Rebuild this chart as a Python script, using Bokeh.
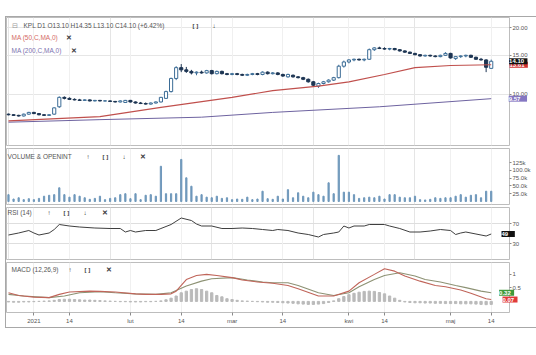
from bokeh.plotting import figure
from bokeh.layouts import column
from bokeh.models import ColumnDataSource, FixedTicker, Label, Range1d, Grid
from bokeh.embed import file_html
from bokeh.resources import INLINE

FONT = "Liberation Sans"

# ---------------- data (trading-day index 0 = 22 Dec 2020 ... 95 = 14 May 2021) ----------------
day = list(range(96))
open_ = [8.15, 8.10, 8.05, 8.00, 8.15, 8.30, 8.20, 8.10, 8.05, 8.15,
         8.80, 9.70, 9.60, 9.50, 9.45, 9.40, 9.45, 9.35, 9.40, 9.35,
         9.35, 9.30, 9.25, 9.20, 9.40, 9.25, 9.15, 9.10, 9.05, 9.15,
         9.25, 9.60, 10.30, 11.80, 13.20, 12.90, 12.70, 12.50, 12.60, 12.50,
         12.80, 12.40, 12.70, 12.40, 12.30, 12.40, 12.30, 12.20, 12.30, 12.40,
         12.30, 12.60, 12.40, 12.50, 12.30, 12.00, 12.20, 12.00, 11.90, 11.70,
         11.40, 10.90, 11.20, 11.40, 11.60, 11.90, 13.40, 14.00, 14.30, 14.40,
         14.30, 14.40, 15.90, 16.20, 16.10, 16.00, 16.10, 15.90, 15.70, 15.50,
         15.30, 15.10, 14.90, 15.00, 14.90, 14.80, 15.00, 15.30, 14.50, 14.80,
         14.90, 15.00, 14.70, 14.40, 14.30, 13.10]
high = [8.20, 8.15, 8.10, 8.20, 8.35, 8.35, 8.25, 8.15, 8.15, 8.75,
        9.80, 9.80, 9.70, 9.60, 9.55, 9.50, 9.50, 9.45, 9.45, 9.40,
        9.40, 9.35, 9.40, 9.45, 9.45, 9.30, 9.25, 9.20, 9.20, 9.30,
        9.75, 10.40, 11.90, 13.40, 13.70, 13.30, 12.90, 12.70, 12.80, 12.90,
        12.90, 12.80, 12.80, 12.50, 12.50, 12.50, 12.40, 12.40, 12.50, 12.50,
        12.70, 12.70, 12.60, 12.60, 12.40, 12.40, 12.30, 12.10, 12.00, 11.80,
        11.50, 11.30, 11.50, 11.70, 12.00, 13.60, 14.20, 14.40, 14.50, 14.50,
        14.50, 16.10, 16.30, 16.40, 16.30, 16.20, 16.20, 16.00, 15.80, 15.60,
        15.40, 15.20, 15.10, 15.10, 15.00, 15.10, 15.50, 15.40, 14.90, 15.00,
        15.10, 15.10, 14.80, 14.60, 14.40, 14.35]
low = [8.05, 8.00, 7.95, 7.95, 8.10, 8.15, 8.05, 8.00, 8.00, 8.10,
       8.70, 9.50, 9.45, 9.40, 9.35, 9.35, 9.30, 9.30, 9.30, 9.30,
       9.25, 9.20, 9.20, 9.15, 9.20, 9.10, 9.05, 9.00, 9.00, 9.10,
       9.20, 9.55, 10.20, 11.60, 12.60, 12.50, 12.30, 12.20, 12.40, 12.40,
       12.30, 12.30, 12.30, 12.20, 12.20, 12.20, 12.10, 12.10, 12.20, 12.20,
       12.20, 12.30, 12.30, 12.20, 12.00, 11.90, 11.90, 11.80, 11.60, 11.30,
       10.80, 10.70, 11.10, 11.30, 11.50, 11.80, 13.20, 13.80, 14.10, 14.20,
       14.10, 14.30, 15.70, 16.00, 15.90, 15.80, 15.80, 15.60, 15.40, 15.20,
       15.00, 14.80, 14.80, 14.80, 14.70, 14.70, 14.90, 14.50, 14.30, 14.60,
       14.70, 14.60, 14.30, 14.20, 12.60, 13.10]
close = [8.10, 8.05, 8.00, 8.15, 8.30, 8.20, 8.10, 8.05, 8.10, 8.70,
         9.70, 9.60, 9.50, 9.45, 9.40, 9.45, 9.35, 9.40, 9.35, 9.35,
         9.30, 9.25, 9.35, 9.40, 9.25, 9.15, 9.10, 9.05, 9.15, 9.25,
         9.70, 10.30, 11.80, 13.20, 12.90, 12.70, 12.50, 12.60, 12.50, 12.80,
         12.40, 12.70, 12.40, 12.30, 12.40, 12.30, 12.20, 12.30, 12.40, 12.30,
         12.60, 12.40, 12.50, 12.30, 12.10, 12.30, 12.00, 11.90, 11.70, 11.40,
         11.00, 11.20, 11.40, 11.60, 11.90, 13.40, 14.00, 14.30, 14.40, 14.30,
         14.40, 15.90, 16.20, 16.10, 16.00, 16.10, 15.90, 15.70, 15.50, 15.30,
         15.10, 14.90, 15.00, 14.90, 14.80, 15.00, 15.30, 14.60, 14.80, 14.90,
         15.00, 14.70, 14.40, 14.30, 13.25, 14.10]
volume_k = [22, 8, 12, 6, 9, 6, 10, 17, 20, 22,
            44, 22, 14, 22, 17, 12, 7, 10, 17, 6,
            10, 12, 22, 25, 9, 25, 6, 20, 22, 17,
            113, 25, 25, 25, 135, 76, 49, 17, 22, 14,
            12, 17, 10, 12, 6, 8, 7, 14, 6, 8,
            33, 9, 7, 17, 8, 38, 12, 28, 17, 12,
            30, 22, 17, 60, 25, 148, 30, 30, 22, 10,
            12, 14, 12, 17, 8, 22, 22, 14, 12, 12,
            17, 6, 5, 7, 12, 10, 12, 12, 17, 22,
            14, 20, 22, 12, 33, 33]
ma50_day = [0, 18, 30, 44, 52, 61, 67, 74, 80, 87, 95]
ma50_val = [7.6, 7.95, 8.75, 9.7, 10.4, 10.9, 11.4, 12.3, 13.2, 13.5, 13.6]
ma200_day = [0, 18, 38, 52, 73, 95]
ma200_val = [7.5, 7.7, 7.9, 8.3, 8.8, 9.57]
rsi_day = [0, 2, 4, 5, 6, 8, 9, 10, 12, 14, 17, 20, 22, 23, 24, 25, 27, 29, 30, 32,
           34, 36, 37, 38, 40, 42, 44, 46, 48, 50, 52, 53, 55, 57, 59, 61, 62, 64, 65, 66,
           67, 68, 70, 71, 74, 75, 77, 79, 81, 83, 85, 87, 88, 89, 90, 92, 93, 94, 95]
rsi_val = [47, 51, 56, 51, 47, 51, 58, 68, 65, 63, 61, 60, 60, 53, 56, 53, 56, 56, 60, 68,
           81, 76, 69, 65, 65, 60, 60, 61, 60, 58, 56, 58, 56, 51, 48, 43, 48, 51, 53, 65,
           61, 65, 65, 68, 68, 65, 60, 53, 53, 55, 58, 56, 48, 51, 53, 49, 47, 45, 49]
macd_day = [0, 2, 5, 8, 10, 12, 16, 18, 21, 25, 27, 30, 32, 33, 35, 37, 39, 41, 44, 46,
            49, 52, 55, 57, 61, 64, 67, 69, 72, 74, 76, 78, 81, 84, 86, 89, 91, 94, 95]
macd_val = [0.32, 0.22, 0.16, 0.14, 0.26, 0.35, 0.38, 0.37, 0.35, 0.28, 0.26, 0.26, 0.28, 0.38,
            0.81, 0.96, 1.00, 0.96, 0.88, 0.79, 0.72, 0.67, 0.59, 0.47, 0.20, 0.20, 0.38, 0.69,
            1.00, 1.21, 1.12, 0.94, 0.75, 0.59, 0.54, 0.42, 0.30, 0.10, 0.07]
signal_day = [0, 3, 8, 11, 14, 18, 21, 25, 29, 32, 35, 38, 40, 44, 47, 50, 52, 55, 57, 61,
              64, 67, 69, 72, 74, 77, 80, 82, 85, 88, 90, 93, 95]
signal_val = [0.26, 0.20, 0.14, 0.20, 0.32, 0.36, 0.32, 0.28, 0.26, 0.32, 0.57, 0.75, 0.84,
              0.88, 0.79, 0.72, 0.69, 0.69, 0.59, 0.32, 0.22, 0.32, 0.54, 0.81, 0.96, 1.06,
              0.94, 0.81, 0.72, 0.59, 0.51, 0.38, 0.32]
hist = [-0.02, -0.03, -0.03, -0.02, -0.02, -0.01, 0.0, 0.01, 0.02, 0.04,
        0.07, 0.08, 0.08, 0.07, 0.06, 0.05, 0.05, 0.04, 0.03, 0.02,
        0.01, 0.0, -0.01, -0.01, -0.02, -0.02, -0.02, -0.01, -0.01, 0.0,
        0.02, 0.06, 0.12, 0.20, 0.32, 0.38, 0.44, 0.47, 0.44, 0.38,
        0.32, 0.22, 0.17, 0.10, 0.07, 0.04, 0.02, 0.01, 0.0, -0.01,
        -0.02, -0.03, -0.03, -0.04, -0.05, -0.06, -0.07, -0.09, -0.10, -0.11,
        -0.11, -0.10, -0.08, -0.04, 0.02, 0.10, 0.18, 0.25, 0.30, 0.34,
        0.37, 0.38, 0.37, 0.33, 0.28, 0.20, 0.12, 0.04, -0.02, -0.04,
        -0.05, -0.05, -0.06, -0.06, -0.07, -0.07, -0.08, -0.08, -0.08, -0.09,
        -0.09, -0.09, -0.10, -0.11, -0.12, -0.11]
tick_days = [5, 12, 24, 34, 44, 54, 67, 74, 87, 95]
tick_labels = ["2021", "14", "lut", "14", "mar", "14", "kwi", "14", "maj", "14"]
price_ticks = [10, 15, 20]
price_tick_labels = ["10.00", "15.00", "20.00"]
vol_ticks = [25, 50, 75, 100, 125]
vol_tick_labels = ["25.0k", "50.0k", "75.0k", "100.0k", "125k"]
rsi_ticks = [30, 70]
macd_ticks = [0.5, 1.0]

# ---------------- helpers ----------------
x_range = Range1d(-0.39, 98.6)
FRAME_W = 503
ICON = "#3c3c3c"
TAG_W = 18.4   # width of one value-tag side panel


def make_fig(fh, yr, ytype="linear", show_x=False, top=1, bottom=2):
    p = figure(frame_width=FRAME_W, frame_height=fh, x_range=x_range, y_range=yr,
               y_axis_type=ytype, y_axis_location="right",
               x_axis_location="below" if show_x else None,
               output_backend="svg", toolbar_location=None,
               min_border_left=0, min_border_right=22, min_border_top=top,
               min_border_bottom=bottom, background_fill_color="white",
               border_fill_color="white", outline_line_color="#bdbdbd",
               outline_line_width=1)
    ax = p.yaxis[0]
    ax.axis_line_color = None
    ax.major_tick_in = 0
    ax.major_tick_out = 2
    ax.major_tick_line_color = "#8a8a8a"
    ax.minor_tick_line_color = None
    ax.major_label_text_font = FONT
    ax.major_label_text_font_size = "6px"
    ax.major_label_text_color = "#555555"
    ax.major_label_standoff = 1
    p.ygrid.grid_line_color = "#e6e6e6"
    if show_x:
        p.xgrid.ticker = FixedTicker(ticks=tick_days)
        p.xgrid.grid_line_color = "#f0f0f0"
    else:
        p.add_layout(Grid(dimension=0, ticker=FixedTicker(ticks=tick_days),
                          grid_line_color="#f0f0f0"))
    return p


def txt(p, x, y, s, color="#555555", size="6.5px", style="normal"):
    p.add_layout(Label(x=x, y=y, x_units="screen", y_units="screen", text=s,
                       text_color=color, text_font=FONT, text_font_size=size,
                       text_font_style=style, text_baseline="middle", level="overlay"))


def box(p, k, y, s, bg, fg="white"):
    # value tag in its own right-hand side panel; k-th tag shifted back over the price column
    p.add_layout(Label(x=-21 - k * TAG_W, y=y, x_units="screen", text=s, text_color=fg,
                       text_font=FONT, text_font_size="6px", text_font_style="bold",
                       text_baseline="middle", background_fill_color=bg,
                       level="overlay"), "right")


# ---------------- main price panel ----------------
p1 = make_fig(128, Range1d(5.89, 22.2), ytype="log", top=0, bottom=2)
p1.yaxis[0].ticker = FixedTicker(ticks=price_ticks)
p1.yaxis[0].major_label_overrides = dict(zip(price_ticks, price_tick_labels))

up = [c >= o for o, c in zip(open_, close)]
src = ColumnDataSource(dict(day=day, o=open_, h=high, l=low, c=close,
                            fill=["white" if u else "#1d3553" for u in up],
                            line=["#3b6c96" if u else "#1d3553" for u in up]))
p1.segment(x0="day", y0="h", x1="day", y1="l", color="line", line_width=1, source=src)
p1.vbar(x="day", top="o", bottom="c", width=0.62, fill_color="fill", line_color="line",
        line_width=1, source=src)
p1.line(ma200_day, ma200_val, color="#6e63a0", line_width=1)
p1.line(ma50_day, ma50_val, color="#c0504d", line_width=1.2)

txt(p1, 5, 120, "\u229f", color="#9a9a9a")
txt(p1, 17, 120, "KPL  D1  O13.10  H14.35  L13.10  C14.10  (+6.42%)", color="#555555")
txt(p1, 186, 120, "[ ]", color=ICON, size="6px", style="bold")
txt(p1, 206, 120, "\u2193", color=ICON, style="bold")
txt(p1, 5, 108, "MA (50,C,MA,0)", color="#d46a64")
txt(p1, 59, 108, "\u2715", color=ICON, style="bold")
txt(p1, 5, 95, "MA (200,C,MA,0)", color="#7d73b0")
txt(p1, 64, 95, "\u2715", color=ICON, style="bold")

box(p1, 0, ma50_val[-1], " 13.61 ", "#d03030")
box(p1, 1, close[-1], " 14.10 ", "#111111")
box(p1, 2, ma200_val[-1], "  9.57  ", "#8577c2")

# ---------------- volume panel ----------------
p2 = make_fig(56, Range1d(-9.6, 170))
p2.yaxis[0].ticker = FixedTicker(ticks=vol_ticks)
p2.yaxis[0].major_label_overrides = dict(zip(vol_ticks, vol_tick_labels))
p2.ygrid.grid_line_color = None
p2.vbar(x=day, top=volume_k, bottom=0, width=0.24, color="#6f98bb")
txt(p2, 1, 48, "VOLUME & OPENINT", color="#555555")
txt(p2, 80, 48, "\u2191", color=ICON, style="bold")
txt(p2, 96, 48, "[ ]", color=ICON, size="6px", style="bold")
txt(p2, 116, 48, "\u2193", color=ICON, style="bold")
txt(p2, 133, 48, "\u2715", color=ICON, style="bold")

# ---------------- RSI panel ----------------
p3 = make_fig(52, Range1d(-2, 102))
p3.yaxis[0].ticker = FixedTicker(ticks=rsi_ticks)
p3.ygrid.grid_line_color = "#dedede"
p3.line(rsi_day, rsi_val, color="#3f3f3f", line_width=1)
txt(p3, 1, 47, "RSI (14)", color="#555555")
txt(p3, 41, 47, "\u2191", color=ICON, style="bold")
txt(p3, 57, 47, "[ ]", color=ICON, size="6px", style="bold")
txt(p3, 77, 47, "\u2193", color=ICON, style="bold")
txt(p3, 95, 47, "\u2715", color=ICON, style="bold")
box(p3, 0, rsi_val[-1], "  49  ", "#111111")

# ---------------- MACD panel ----------------
p4 = make_fig(50, Range1d(-0.41, 1.44), show_x=True, top=1, bottom=15)
p4.yaxis[0].ticker = FixedTicker(ticks=macd_ticks)
p4.ygrid.grid_line_color = None
p4.vbar(x=day, top=hist, bottom=0, width=0.45, color="#bababa")
p4.line(signal_day, signal_val, color="#8d9274", line_width=1.1)
p4.line(macd_day, macd_val, color="#c0655a", line_width=1.1)
xa = p4.xaxis[0]
xa.ticker = FixedTicker(ticks=tick_days)
xa.major_label_overrides = dict(zip(tick_days, tick_labels))
xa.axis_line_color = None
xa.major_tick_in = 0
xa.major_tick_out = 3
xa.major_tick_line_color = "#8a8a8a"
xa.minor_tick_line_color = None
xa.major_label_text_font = FONT
xa.major_label_text_font_size = "6px"
xa.major_label_text_color = "#555555"
xa.major_label_standoff = 2
txt(p4, 5, 43, "MACD (12,26,9)", color="#555555")
txt(p4, 62, 43, "\u2191", color=ICON, style="bold")
txt(p4, 78, 43, "[ ]", color=ICON, size="6px", style="bold")
txt(p4, 99, 43, "\u2715", color=ICON, style="bold")
box(p4, 0, macd_val[-1], " 0.07 ", "#e03a3a")
box(p4, 1, signal_val[-1], " 0.32 ", "#3f9a3a")

layout = column(p1, p2, p3, p4, spacing=0, margin=(16, 0, 0, 5),
                styles={"border": "1px solid #a8a8a8"})

open("out.html", "w").write(file_html(layout, INLINE))
